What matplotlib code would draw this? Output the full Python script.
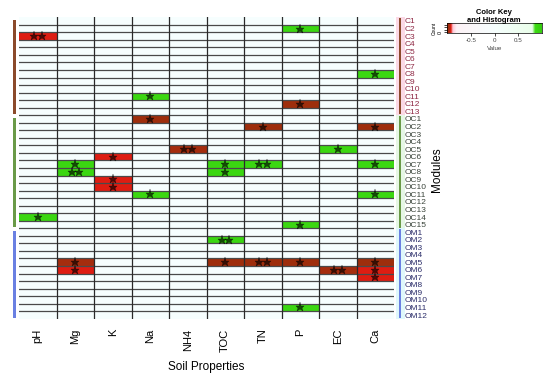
import numpy as np
import matplotlib
matplotlib.use('Agg')
import matplotlib.pyplot as plt
from matplotlib.colors import LinearSegmentedColormap
from matplotlib.patches import Rectangle

plt.rcParams['font.family'] = ['Liberation Sans', 'DejaVu Sans']

# soil properties (columns) and modules (rows)
props = ['pH', 'Mg', 'K', 'Na', 'NH4', 'TOC', 'TN', 'P', 'EC', 'Ca']
c_mods = ['C%d' % i for i in range(1, 14)]
oc_mods = ['OC%d' % i for i in range(1, 16)]
om_mods = ['OM%d' % i for i in range(1, 13)]
modules = c_mods + oc_mods + om_mods

# significant correlations: module, property, r, stars
cell_mod = ['C2', 'C3', 'C8', 'C11', 'C12', 'OC1', 'OC2', 'OC2', 'OC5', 'OC5',
            'OC6', 'OC7', 'OC7', 'OC7', 'OC7', 'OC8', 'OC8', 'OC9', 'OC10', 'OC11',
            'OC11', 'OC14', 'OC15', 'OM2', 'OM5', 'OM5', 'OM5', 'OM5', 'OM5', 'OM6',
            'OM6', 'OM6', 'OM7', 'OM11']
cell_prop = ['P', 'pH', 'Ca', 'Na', 'P', 'Na', 'TN', 'Ca', 'NH4', 'EC',
             'K', 'Mg', 'TOC', 'TN', 'Ca', 'Mg', 'TOC', 'K', 'K', 'Na',
             'Ca', 'pH', 'P', 'TOC', 'Mg', 'TOC', 'TN', 'P', 'Ca', 'Mg',
             'EC', 'Ca', 'Ca', 'P']
cell_r = [0.9, -0.92, 0.9, 0.9, -0.99, -0.99, -0.99, -0.99, -0.955, 0.9,
          -0.92, 0.9, 0.9, 0.9, 0.9, 0.9, 0.9, -0.92, -0.92, 0.9,
          0.9, 0.9, 0.9, 0.9, -0.955, -0.99, -0.99, -0.99, -0.99, -0.92,
          -0.955, -0.92, -0.92, 0.9]
cell_stars = ['*', '**', '*', '*', '*', '*', '*', '*', '**', '*',
              '*', '*', '*', '**', '*', '**', '*', '*', '*', '*',
              '*', '*', '*', '**', '*', '*', '**', '*', '*', '*',
              '**', '*', '*', '*']

groups = [c_mods, oc_mods, om_mods]
group_cols = ['#8b4a2b', '#6a9a48', '#6a80e2']
label_cols = ['#8e2844', '#3a443a', '#2c2e6a']
strip_cols = ['#fbd9e6', '#e6f7e6', '#dff8fb']

cmap = LinearSegmentedColormap.from_list('key', [
    (0.0, '#9c2e0c'), (0.02, '#a52d0e'), (0.04, '#e01c12'), (0.06, '#ffc8d8'),
    (0.1, '#fdf2f6'), (0.5, '#f6fefe'), (0.9, '#eaffea'), (0.93, '#3ddc12'),
    (1.0, '#36cc10')])

mat = np.zeros((len(modules), len(props)))
for m, p, r in zip(cell_mod, cell_prop, cell_r):
    mat[modules.index(m), props.index(p)] = r

fig = plt.figure(figsize=(5.5, 3.8), dpi=100)
ax = fig.add_axes([19 / 550, 1 - 318.8 / 380, 375 / 550, 301.6 / 380])
ax.pcolormesh(np.arange(len(props) + 1), np.arange(len(modules) + 1), mat,
              cmap=cmap, vmin=-1, vmax=1)
ax.set_xlim(0, len(props))
ax.set_ylim(len(modules), 0)
for y in range(1, len(modules)):
    ax.axhline(y, color='#4a4a4a', lw=0.9)
for x in range(1, len(props)):
    ax.axvline(x, color='#2a2a2a', lw=0.9)
for s in ax.spines.values():
    s.set_visible(False)

# significance stars drawn as markers
for m, p, st in zip(cell_mod, cell_prop, cell_stars):
    k = len(st)
    xs = props.index(p) + 0.5 + (np.arange(k) - (k - 1) / 2) * 0.2
    ax.plot(xs, [modules.index(m) + 0.5] * k, ls='none', marker='*', ms=6.5,
            mfc='black', mec='black', mew=0.3, alpha=0.65)

# side colour bars
start = 0
for g, gc, sc in zip(groups, group_cols, strip_cols):
    n = len(g)
    ax.add_patch(Rectangle((10.05, start), 0.24, n, color=sc, clip_on=False, lw=0))
    ax.add_patch(Rectangle((-0.16, start + 0.35), 0.08, n - 0.5, color=gc,
                           clip_on=False, lw=0))
    ax.add_patch(Rectangle((10.13, start + 0.1), 0.055, n - 0.2, color=gc,
                           clip_on=False, lw=0))
    start += n

ax.yaxis.tick_right()
ax.set_yticks(np.arange(len(modules)) + 0.5)
ax.set_yticklabels(modules, fontsize=6)
for lab, m in zip(ax.get_yticklabels(), modules):
    gi = 0 if m.startswith('C') else (1 if m.startswith('OC') else 2)
    lab.set_color(label_cols[gi])
ax.tick_params(axis='y', length=0, pad=8)
ax.set_xticks(np.arange(len(props)) + 0.5)
ax.set_xticklabels(props, rotation=90, fontsize=8)
ax.tick_params(axis='x', length=0, pad=7)

fig.text(206 / 550, 1 - 367 / 380, 'Soil Properties', ha='center', va='center', fontsize=8.5)
fig.text(437 / 550, 1 - 170 / 380, 'Modules', ha='center', va='center',
         rotation=90, fontsize=8.5)

# colour key
kax = fig.add_axes([447 / 550, 1 - 33 / 380, 95 / 550, 10 / 380])
kax.imshow(np.linspace(-1, 1, 256)[None, :], extent=(-1, 1, 0, 1), aspect='auto',
           cmap=cmap, vmin=-1, vmax=1)
kax.set_xticks([-0.5, 0, 0.5])
kax.set_xticklabels(['-0.5', '0', '0.5'], fontsize=4.5, color='#444')
kax.tick_params(axis='x', length=2, width=0.5, pad=1.5)
kax.set_yticks([0.1, 0.35, 0.6, 0.85])
kax.set_yticklabels(['0', '', '', ''], fontsize=4, rotation=90, va='center')
kax.tick_params(axis='y', length=2, width=0.5, pad=1)
kax.set_xlabel('Value', fontsize=4.5, labelpad=2, color='#444')
kax.set_ylabel('Count', fontsize=3.5, labelpad=1)
for s in kax.spines.values():
    s.set_linewidth(0.5)
fig.text(494 / 550, 1 - 17 / 380, 'Color Key\nand Histogram', ha='center',
         va='center', fontsize=5.5, fontweight='bold', linespacing=1.2)

fig.savefig('out.png', dpi=100)
